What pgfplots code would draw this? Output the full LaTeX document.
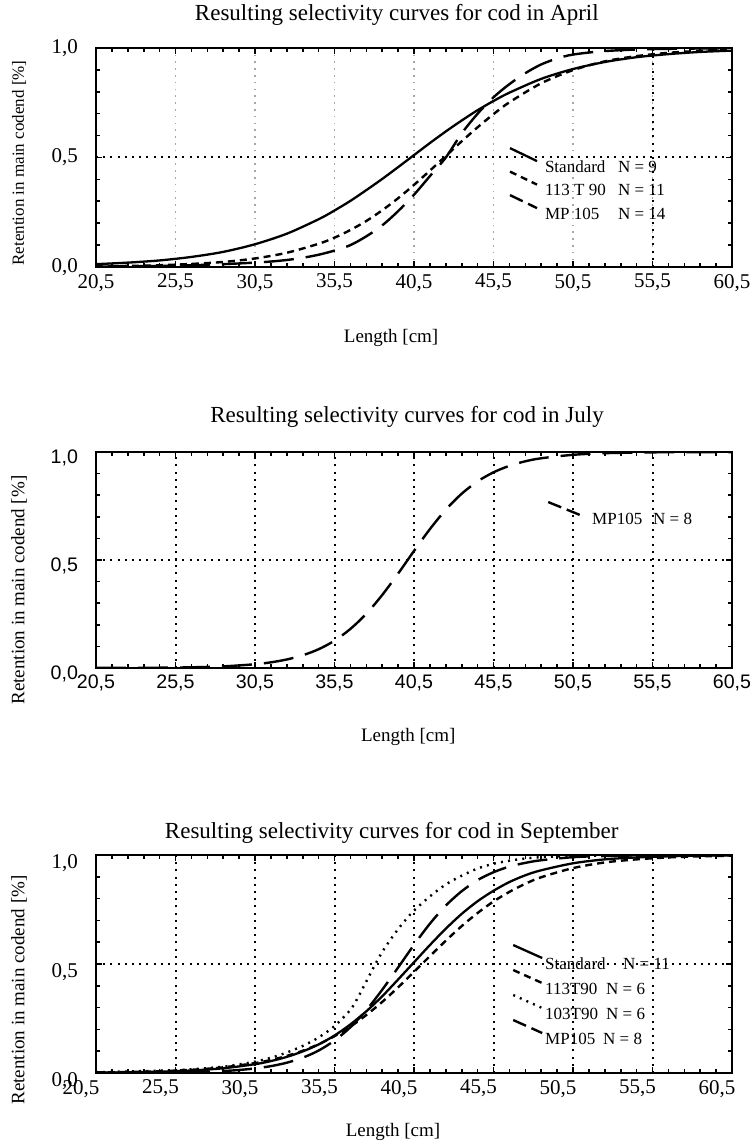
\documentclass[border=0pt]{standalone}
\usepackage{fontspec}
\setmainfont{Liberation Serif}
\newfontfamily\ticksans{Liberation Sans}
\usepackage{pgfplots}
\pgfplotsset{compat=1.18}

% line styles of the gear types
\tikzset{
  std/.style={black, line width=1.15pt},
  t113/.style={black, line width=1.2pt, dash pattern=on 3.5pt off 2.5pt},
  t103/.style={black, line width=1.2pt, dash pattern=on 1pt off 2.6pt},
  mp/.style={black, line width=1.2pt, dash pattern=on 15pt off 6pt},
  mpleg/.style={black, line width=1.2pt, dash pattern=on 7pt off 3pt},
}

\pgfplotsset{
  selpanel/.style={
    scale only axis, width=318pt,
    xmin=20.5, xmax=60.5, ymin=0, ymax=1,
    xtick={20.5,25.5,30.5,35.5,40.5,45.5,50.5,55.5,60.5},
    xticklabels={{20,5},{25,5},{30,5},{35,5},{40,5},{45,5},{50,5},{55,5},{60,5}},
    ytick={0,0.5,1}, yticklabels={{0,0},{0,5},{1,0}},
    minor x tick num=4, minor y tick num=4,
    tick align=inside, tick pos=both,
    major tick length=3pt, minor tick length=2.2pt,
    every tick/.style={black, line width=0.8pt},
    axis line style={black, line width=1.2pt},
    xmajorgrids, ymajorgrids,
    major grid style={black, line width=1pt, dash pattern=on 1pt off 2.6pt},
    ticklabel style={font=\fontsize{10.5}{12}\selectfont},
    yticklabel style={xshift=-5.5pt},
    every axis title shift=0pt,
    title style={font=\fontsize{11.5}{13}\selectfont, anchor=center},
    xlabel style={font=\fontsize{9.5}{11}\selectfont, anchor=center},
    ylabel style={font=\fontsize{9.5}{11}\selectfont, anchor=center},
    xlabel={Length [cm]},
    ylabel={Retention in main codend [\%]},
    legend cell align=left,
    legend style={draw=none, fill=none, inner sep=0pt, outer sep=0pt,
      anchor=north west,
      nodes={inner sep=0pt, text height=6pt, text depth=2pt,
        font=\fontsize{8.5}{10}\selectfont}},
  },
}

\begin{document}
\begin{tikzpicture}
\useasboundingbox (0,0) rectangle (377.5pt,-572pt);

% ---------------- April ----------------
\begin{axis}[selpanel,
  at={(48pt,-133.5pt)}, anchor=south west, height=109.5pt,
  title={Resulting selectivity curves for cod in April},
  title style={at={(axis description cs:0.473,1.151)}},
  xlabel style={at={(axis description cs:0.464,-0.324)}},
  ylabel style={at={(axis description cs:-0.121,0.475)}, font=\fontsize{8.5}{10}\selectfont},
  x grid style={gray!70, line width=0.6pt, dash pattern=on 0.8pt off 2.6pt},
  extra x ticks={55.5}, extra x tick labels={},
  extra x tick style={x grid style={black, line width=1pt, dash pattern=on 1pt off 2.6pt}},
  legend style={at={(axis description cs:0.651,0.488)}, row sep=3.75pt, column sep=4pt},
  legend image code/.code={\path[draw=none, fill=none] (0pt,-4pt) rectangle (13.5pt,4pt);
    \draw[#1,overlay] (0pt,10pt) -- (13.5pt,3.5pt);},
]
\addplot[std, smooth, forget plot] coordinates {
 (20.5,0.013) (22.5,0.020) (24.5,0.030) (26.5,0.046) (28.5,0.069) (30.5,0.104)
 (32.5,0.152) (34.5,0.218) (35.5,0.258) (36.5,0.302) (37.5,0.351) (38.5,0.402)
 (39.5,0.456) (40.5,0.511) (41.5,0.566) (42.5,0.619) (43.5,0.669) (44.5,0.716)
 (45.5,0.758) (46.5,0.796) (48.5,0.859) (50.5,0.904) (52.5,0.936) (54.5,0.958)
 (56.5,0.972) (58.5,0.982) (60.5,0.988)};
\addplot[t113, smooth, forget plot] coordinates {
 (20.5,0.003) (22.5,0.005) (24.5,0.008) (26.5,0.014) (28.5,0.023) (30.5,0.039)
 (32.5,0.065) (34.5,0.106) (35.5,0.134) (36.5,0.169) (37.5,0.210) (38.5,0.259)
 (39.5,0.314) (40.5,0.375) (41.5,0.440) (42.5,0.507) (43.5,0.574) (44.5,0.638)
 (45.5,0.698) (46.5,0.752) (48.5,0.839) (50.5,0.899) (52.5,0.939) (54.5,0.963)
 (56.5,0.978) (58.5,0.987) (60.5,0.993)};
\addplot[mp, smooth, forget plot] coordinates {
 (20.5,0.002) (22.5,0.003) (24.5,0.005) (26.5,0.008) (28.5,0.013) (30.5,0.020)
 (31.5,0.025) (32.5,0.032) (33.5,0.042) (34.5,0.056) (35.5,0.075) (36.5,0.100)
 (37.5,0.140) (38.5,0.190) (39.5,0.255) (40.5,0.330) (41.5,0.415) (42.5,0.500)
 (43.5,0.610) (44.5,0.700) (45.5,0.775) (46.5,0.835) (47.5,0.885) (48.5,0.925)
 (49.5,0.952) (50.5,0.970) (52.5,0.986) (55.5,0.995) (60.5,0.999)};
\addlegendimage{std}
\addlegendentry{\makebox[36.5pt][l]{Standard}N = 9}
\addlegendimage{t113}
\addlegendentry{\makebox[36.5pt][l]{113 T 90}N = 11}
\addlegendimage{mpleg}
\addlegendentry{\makebox[36.5pt][l]{MP 105}N = 14}
\end{axis}

% ---------------- July ----------------
\begin{axis}[selpanel,
  at={(48pt,-334pt)}, anchor=south west, height=108pt,
  title={Resulting selectivity curves for cod in July},
  title style={at={(axis description cs:0.489,1.162)}},
  xlabel style={at={(axis description cs:0.491,-0.319)}},
  ylabel style={at={(axis description cs:-0.121,0.361)}},
  ticklabel style={font=\ticksans\fontsize{9.8}{11}\selectfont},
  yticklabel style={yshift=-3pt},
  legend style={at={(axis description cs:0.711,0.722)}, row sep=3.75pt, column sep=6pt},
  legend image code/.code={\path[draw=none, fill=none] (0pt,-4pt) rectangle (16pt,4pt);
    \draw[#1,overlay] (0pt,9pt) -- (16pt,2.5pt);},
]
\addplot[mp, smooth, forget plot] coordinates {
 (20.5,0.0003) (24.5,0.0014) (26.5,0.0033) (28.5,0.0076) (30.5,0.0174)
 (31.5,0.0263) (32.5,0.0395) (33.5,0.0589) (34.5,0.0869) (35.5,0.1265)
 (36.5,0.181) (37.5,0.251) (38.5,0.338) (39.5,0.437) (40.5,0.542)
 (41.5,0.643) (42.5,0.733) (43.5,0.807) (44.5,0.864) (45.5,0.906)
 (46.5,0.936) (47.5,0.957) (48.5,0.971) (50.5,0.987) (52.5,0.9946)
 (55.5,0.9985) (60.5,0.9998)};
\addlegendimage{mpleg}
\addlegendentry{\makebox[30.5pt][l]{MP105}N = 8}
\end{axis}

% ---------------- September ----------------
\begin{axis}[selpanel,
  at={(48pt,-536.5pt)}, anchor=south west, height=109pt,
  title={Resulting selectivity curves for cod in September},
  title style={at={(axis description cs:0.465,1.101)}},
  xlabel style={at={(axis description cs:0.467,-0.271)}},
  ylabel style={at={(axis description cs:-0.121,0.381)}},
  xticklabel style={xshift=-7.5pt},
  yticklabel style={yshift=-4pt},
  legend style={at={(axis description cs:0.656,0.532)}, row sep=4.5pt, column sep=1.5pt},
  legend image code/.code={\path[draw=none, fill=none] (0pt,-4pt) rectangle (14.5pt,4pt);
    \draw[#1,overlay] (0pt,10pt) -- (14.5pt,3.5pt);},
]
\addplot[std, smooth, forget plot] coordinates {
 (20.5,0.0017) (22.5,0.0032) (24.5,0.0061) (26.5,0.0116) (28.5,0.0217)
 (30.5,0.0404) (31.5,0.0548) (32.5,0.0739) (33.5,0.099) (34.5,0.131)
 (35.5,0.172) (36.5,0.223) (37.5,0.283) (38.5,0.352) (39.5,0.429)
 (40.5,0.508) (41.5,0.587) (42.5,0.662) (43.5,0.730) (44.5,0.788)
 (45.5,0.836) (46.5,0.876) (47.5,0.907) (48.5,0.930) (50.5,0.962)
 (52.5,0.980) (54.5,0.989) (56.5,0.994) (58.5,0.997) (60.5,0.998)};
\addplot[t113, smooth, forget plot] coordinates {
 (20.5,0.0026) (22.5,0.0047) (24.5,0.0083) (26.5,0.0147) (28.5,0.0260)
 (30.5,0.0454) (31.5,0.0598) (32.5,0.0784) (33.5,0.102) (34.5,0.132)
 (35.5,0.169) (36.5,0.213) (37.5,0.266) (38.5,0.326) (39.5,0.393)
 (40.5,0.464) (41.5,0.536) (42.5,0.607) (43.5,0.674) (44.5,0.734)
 (45.5,0.787) (46.5,0.831) (47.5,0.868) (48.5,0.898) (50.5,0.940)
 (52.5,0.966) (54.5,0.980) (56.5,0.989) (58.5,0.994) (60.5,0.997)};
\addplot[t103, smooth, forget plot] coordinates {
 (20.5,0.004) (22.5,0.007) (24.5,0.011) (26.5,0.017) (28.5,0.029) (29.5,0.040)
 (30.5,0.052) (31.5,0.070) (32.5,0.094) (33.5,0.124) (34.5,0.163) (35.5,0.215)
 (36.5,0.290) (37.0,0.350) (37.5,0.420) (38.0,0.490) (38.5,0.555) (39.0,0.610)
 (39.5,0.660) (40.0,0.705) (40.5,0.745) (41.5,0.810) (42.5,0.865) (43.5,0.905)
 (44.5,0.938) (45.5,0.960) (46.5,0.974) (47.5,0.984) (48.5,0.990) (50.5,0.996)
 (55.5,0.999) (60.5,1.000)};
\addplot[mp, smooth, forget plot] coordinates {
 (20.5,0.0003) (24.5,0.0017) (26.5,0.0040) (28.5,0.0092) (29.5,0.0139)
 (30.5,0.0210) (31.5,0.0316) (32.5,0.0473) (33.5,0.0702) (34.5,0.103)
 (35.5,0.149) (36.5,0.210) (37.5,0.288) (38.5,0.382) (39.5,0.484)
 (40.5,0.588) (41.5,0.685) (42.5,0.768) (43.5,0.834) (44.5,0.885)
 (45.5,0.921) (46.5,0.947) (47.5,0.964) (48.5,0.976) (50.5,0.990)
 (52.5,0.9955) (55.5,0.9987) (60.5,0.9998)};
\addlegendimage{std}
\addlegendentry{\makebox[39pt][l]{Standard}N = 11}
\addlegendimage{t113}
\addlegendentry{\makebox[30.5pt][l]{113T90}N = 6}
\addlegendimage{t103}
\addlegendentry{\makebox[30.5pt][l]{103T90}N = 6}
\addlegendimage{mpleg}
\addlegendentry{\makebox[29pt][l]{MP105}N = 8}
\end{axis}
\end{tikzpicture}
\end{document}
